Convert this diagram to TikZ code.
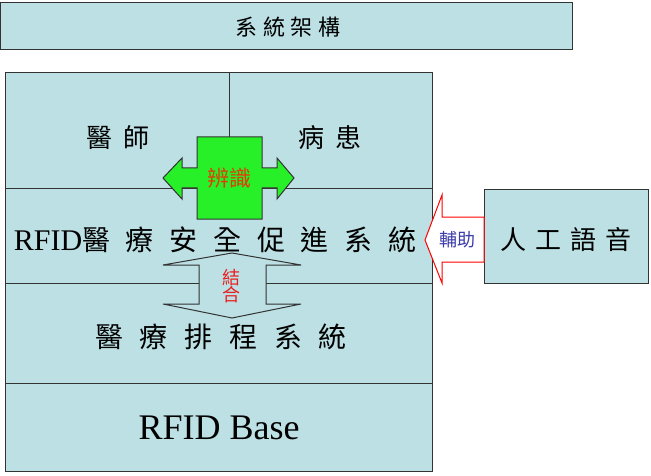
\documentclass[tikz,border=0pt]{standalone}
\usepackage{fontspec}
\setmainfont{Liberation Serif}
\newfontfamily\cjk{Noto Sans CJK TC}
\definecolor{boxteal}{RGB}{188,224,228}
\definecolor{arrgreen}{RGB}{40,240,40}
\definecolor{txtorange}{RGB}{225,60,10}
\definecolor{txtred}{RGB}{235,30,30}
\definecolor{txtblue}{RGB}{60,60,170}
\tikzset{
  frame/.style={draw=black!80,line width=1pt},
  cjktext/.style={inner sep=0pt,font=\cjk\fontsize{#1}{#1}\selectfont},
}
\begin{document}
\begin{tikzpicture}[x=1pt,y=-1pt]
  \useasboundingbox (0,0) rectangle (651,476);
  % boxes
  \fill[boxteal] (0.5,2.5) rectangle (572,50);
  \draw[frame] (0.5,2.5) rectangle (572,50);
  \fill[boxteal] (5,73) rectangle (432,471);
  \fill[boxteal] (484,190) rectangle (648,283);
  \draw[frame] (5,73) rectangle (432,471);
  \draw[frame] (484,190) rectangle (648,283);
  \draw[frame] (229,73) -- (229,140);
  \draw[frame] (5,189) -- (432,189);
  \draw[frame] (5,283) -- (432,283);
  \draw[frame] (5,383) -- (432,383);
  % green arrow
  \draw[frame,fill=arrgreen] (197,137) -- (262,137) -- (262,168) -- (277,168) -- (277,158)
    -- (294,178) -- (277,199) -- (277,188) -- (262,188) -- (262,219) -- (197,219)
    -- (197,188) -- (182,188) -- (182,199) -- (163,178) -- (182,158) -- (182,168)
    -- (197,168) -- cycle;
  % up-down arrow
  \draw[frame,fill=boxteal] (232,253) -- (301,265) -- (266,265) -- (266,304) -- (301,304)
    -- (232,318) -- (163,304) -- (199,304) -- (199,265) -- (163,265) -- cycle;
  % red arrow
  \draw[draw=red,line width=1pt,fill=white] (425,240) -- (442,195) -- (442,217) -- (484,217)
    -- (484,262) -- (442,262) -- (442,283) -- cycle;
  % texts
  \node[cjktext=22] (title) at (288,27) {\addfontfeature{LetterSpace=25}系統架構};
  \node[cjktext=26] (doctor) at (118,138) {\addfontfeature{LetterSpace=40}醫師};
  \node[cjktext=26] (patient) at (330,138) {\addfontfeature{LetterSpace=40}病患};
  \node[cjktext=22,text=txtorange] (ident) at (229,178) {辨識};
  \node[inner sep=0pt] (safety) at (215,240)
    {\fontsize{30}{30}\selectfont RFID\cjk\fontsize{28}{28}\selectfont\addfontfeature{LetterSpace=56}醫療安全促進系統};
  \node[cjktext=18,text=txtred,align=center] (combine) at (231,286) {結\\[-1pt]合};
  \node[cjktext=28] (schedule) at (221,337) {\addfontfeature{LetterSpace=60}醫療排程系統};
  \node[inner sep=0pt,font=\fontsize{36}{36}\selectfont] (base) at (219,428) {RFID Base};
  \node[cjktext=18,text=txtblue] (assist) at (457,240) {輔助};
  \node[cjktext=26] (voice) at (566,240) {\addfontfeature{LetterSpace=35}人工語音};
\end{tikzpicture}
\end{document}
